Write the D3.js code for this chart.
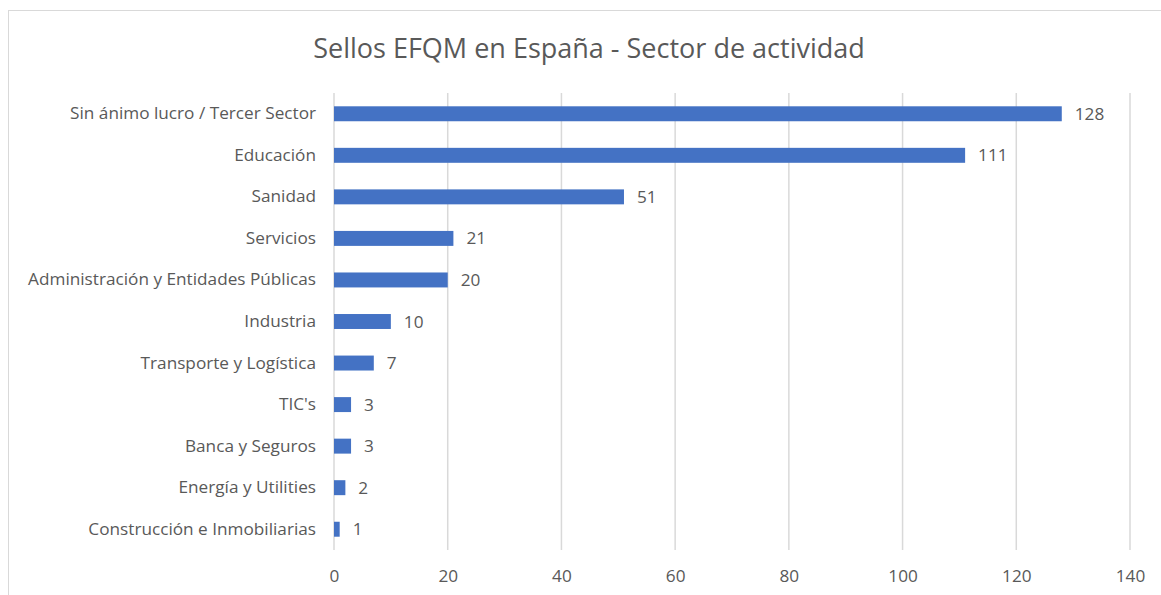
<!DOCTYPE html>
<html>
<head>
<meta charset="utf-8">
<script src="https://cdn.jsdelivr.net/npm/d3@7"></script>
<style>
  body { margin: 0; background: #fff; }
  svg { display: block; font-family: "Open Sans", sans-serif; }
</style>
</head>
<body>
<div id="chart"></div>
<script>
const title = "Sellos EFQM en España - Sector de actividad";

const categories = [
    "Sin ánimo lucro / Tercer Sector",
    "Educación",
    "Sanidad",
    "Servicios",
    "Administración y Entidades Públicas",
    "Industria",
    "Transporte y Logística",
    "TIC's",
    "Banca y Seguros",
    "Energía y Utilities",
    "Construcción e Inmobiliarias"
];
const values = [128, 111, 51, 21, 20, 10, 7, 3, 3, 2, 1];
const xTicks = [0, 20, 40, 60, 80, 100, 120, 140];

const width = 1161;
const height = 595;
const margin = { top: 93, right: 31, bottom: 45, left: 334 };
const labelFont = "\"Open Sans\", sans-serif";
const labelSize = "17.2px";

const svg = d3.select("#chart")
    .append("svg")
    .attr("width", width)
    .attr("height", height);

// chart frame (cropped on right and bottom)
svg.append("rect")
    .attr("x", 8.5)
    .attr("y", 10.5)
    .attr("width", 1300)
    .attr("height", 700)
    .attr("fill", "#fff")
    .attr("stroke", "#d9d9d9");

svg.append("text")
    .attr("x", 589)
    .attr("y", 58)
    .attr("text-anchor", "middle")
    .style("font-size", "27px")
    .style("fill", "#595959")
    .text(title);

const x = d3.scaleLinear()
    .domain([0, 140])
    .range([margin.left, width - margin.right]);

const y = d3.scaleBand()
    .domain(categories)
    .range([margin.top, height - margin.bottom])
    .paddingInner(0.64)
    .paddingOuter(0.32);

// gridlines
svg.append("g")
    .selectAll("line")
    .data(xTicks)
    .join("line")
    .attr("x1", d => x(d))
    .attr("x2", d => x(d))
    .attr("y1", margin.top)
    .attr("y2", height - margin.bottom)
    .attr("stroke", "#d9d9d9")
    .attr("stroke-width", 1.5);

// x axis labels
const xAxis = d3.axisBottom(x)
    .tickValues(xTicks)
    .tickSize(0)
    .tickPadding(20);

const gx = svg.append("g")
    .attr("transform", `translate(0,${height - margin.bottom})`)
    .call(xAxis);
gx.select(".domain").remove();
gx.selectAll("text")
    .style("font-size", labelSize)
    .style("font-family", labelFont)
    .style("fill", "#595959");

// y axis labels
const yAxis = d3.axisLeft(y)
    .tickSize(0)
    .tickPadding(18);

const gy = svg.append("g")
    .attr("transform", `translate(${margin.left},0)`)
    .call(yAxis);
gy.select(".domain").remove();
gy.selectAll("text")
    .style("font-size", labelSize)
    .style("font-family", labelFont)
    .style("fill", "#595959");

// bars
svg.append("g")
    .selectAll("rect")
    .data(values)
    .join("rect")
    .attr("x", x(0))
    .attr("y", (d, i) => y(categories[i]))
    .attr("width", d => x(d) - x(0))
    .attr("height", y.bandwidth())
    .attr("fill", "#4472c4");

// value labels
svg.append("g")
    .selectAll("text")
    .data(values)
    .join("text")
    .attr("x", d => x(d) + 13)
    .attr("y", (d, i) => y(categories[i]) + y.bandwidth() / 2)
    .attr("dy", "0.35em")
    .style("font-size", labelSize)
    .style("fill", "#595959")
    .text(d => d);
</script>
</body>
</html>
